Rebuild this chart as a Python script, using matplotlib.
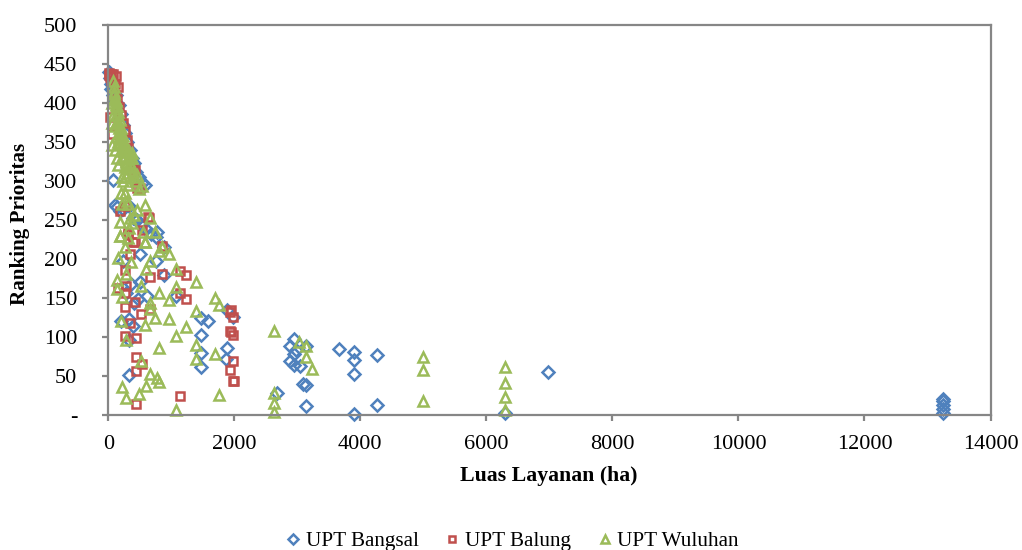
import matplotlib
matplotlib.use("Agg")
import matplotlib.pyplot as plt

plt.rcParams['font.family'] = ['Liberation Serif', 'DejaVu Serif']

series_names = ['UPT Bangsal', 'UPT Balung', 'UPT Wuluhan']
x_label = 'Luas Layanan (ha)'
y_label = 'Ranking Prioritas'
x_ticks = [0, 2000, 4000, 6000, 8000, 10000, 12000, 14000]
y_ticks = [0, 50, 100, 150, 200, 250, 300, 350, 400, 450, 500]
y_tick_labels = ['-', '50', '100', '150', '200', '250', '300', '350', '400', '450', '500']

bangsal_x = [10, 20, 35, 50, 70, 90, 130, 170, 200, 235, 265, 300, 340, 370, 400, 440, 490, 530, 590, 75, 105, 140, 185, 240, 330, 390, 450, 520, 600, 680, 770, 760, 880,
             328, 391, 328, 196, 328, 1471, 1471, 1883, 1862, 1471, 1471, 1582, 1883, 1978, 1069, 614, 471, 407, 275, 365, 503, 878, 762, 503, 233,
             3899, 3142, 4269, 2677, 3089, 3142, 3899, 2883, 2941, 3047, 2941, 2984, 2878, 2941, 3142, 3666, 3899, 3899, 4269, 6970, 6290,
             13240, 13240, 13240, 13240, 13240]
bangsal_y = [440, 432, 425, 418, 410, 402, 410, 398, 386, 372, 362, 350, 340, 330, 323, 312, 305, 298, 295, 301, 269, 267, 262, 264, 268, 253, 250, 243, 238, 232, 235, 228, 215,
             51, 114, 123, 121, 96, 62, 79, 86, 72, 102, 125, 120, 135, 126, 153, 153, 149, 144, 156, 168, 171, 180, 197, 206, 198,
             1, 12, 13, 28, 40, 39, 52, 69, 64, 63, 78, 83, 88, 98, 88, 84, 81, 70, 77, 55, 3,
             3, 8, 13, 18, 20]

balung_x = [5, 15, 25, 35, 45, 60, 80, 100, 120, 150, 110, 140, 170, 200, 230, 260, 290, 320, 350, 380, 423, 450, 500, 26, 60, 185, 635, 529, 397, 317, 260, 640,
            434, 1137, 1978, 1990, 1936, 1978, 529, 434, 434, 434, 270, 344, 1952, 1978, 1936, 1978, 1936, 1952, 524, 270, 418, 656, 1238, 1132, 270, 153, 275, 656, 857, 339, 270, 1132, 1238, 418, 312, 857]
balung_y = [438, 436, 433, 437, 430, 428, 437, 425, 434, 420, 410, 405, 395, 385, 375, 365, 352, 342, 330, 316, 314, 291, 291, 382, 360, 261, 254, 237, 222, 233, 268, 252,
            14, 25, 44, 44, 58, 69, 66, 57, 75, 99, 101, 118, 106, 103, 108, 126, 132, 134, 130, 139, 145, 136, 149, 156, 156, 163, 165, 177, 181, 206, 186, 185, 179, 222, 231, 217]

wuluhan_x = [75, 85, 95, 100, 115, 130, 145, 160, 175, 190, 205, 225, 245, 265, 285, 305, 330, 350, 370, 390, 415, 440, 480, 529, 450, 370, 132, 53, 180, 105, 230, 280, 60, 150, 320, 200, 120, 250,
             90, 110, 135, 155, 180, 205, 230, 255, 280, 310, 340, 375, 60, 80, 120, 140, 170, 195, 225, 260, 290, 100, 150, 215, 270, 300,
             582, 661, 212, 307, 450, 185, 344, 370, 741, 846, 185, 582, 555, 317, 265, 330, 400,
             1069, 275, 487, 212, 592, 1751, 799, 778, 667, 513, 799, 1386, 1687, 1386, 280, 1069, 1238, 577, 735, 957, 206, 1386, 1751, 1687, 957, 656, 656, 222, 799, 138, 138, 513, 1069, 1386, 286, 592, 1069, 365, 656, 153, 577, 957, 799, 180,
             2629, 2629, 2629, 2629, 3026, 3142, 3142, 3237, 5000, 5000, 5000, 6290, 6290, 6290, 6290]
wuluhan_y = [428, 420, 412, 405, 398, 392, 384, 376, 368, 362, 354, 347, 340, 332, 325, 318, 338, 330, 336, 312, 305, 300, 290, 293, 308, 329, 329, 346, 357, 370, 300, 305, 375, 350, 295, 285, 402, 345,
             414, 405, 396, 388, 378, 368, 358, 350, 344, 330, 322, 318, 400, 385, 375, 358, 348, 338, 328, 318, 310, 340, 320, 305, 285, 275,
             269, 252, 271, 271, 263, 248, 252, 246, 235, 216, 229, 222, 235, 227, 216, 240, 256,
             6, 22, 27, 36, 37, 26, 42, 48, 53, 69, 86, 72, 78, 90, 96, 101, 113, 115, 125, 123, 121, 133, 141, 150, 147, 136, 144, 151, 157, 162, 173, 166, 164, 171, 181, 187, 187, 196, 198, 201, 222, 206, 210, 229,
             108, 28, 15, 4, 93, 89, 75, 59, 74, 58, 18, 61, 41, 23, 7]

fig = plt.figure(figsize=(10.22, 5.5), dpi=100)
ax = fig.add_axes([108.3 / 1022, 1 - 415 / 550, (990.5 - 108.3) / 1022, 390 / 550])

styles = [('D', '#4F81BD', 6.0), ('s', '#C0504D', 6.2), ('^', '#9BBB59', 7.0)]
data = [(bangsal_x, bangsal_y), (balung_x, balung_y), (wuluhan_x, wuluhan_y)]
for (xs, ys), name, (m, c, s) in zip(data, series_names, styles):
    ax.plot(xs, ys, linestyle='none', marker=m, markerfacecolor='none', markeredgecolor=c,
            markeredgewidth=1.8, markersize=s, label=name, clip_on=False)

ax.set_xlim(0, 14000)
ax.set_ylim(0, 500)
ax.set_xticks(x_ticks)
ax.set_yticks(y_ticks, y_tick_labels)
for sp in ax.spines.values():
    sp.set_color('#868686')
    sp.set_linewidth(1.6)
ax.tick_params(axis='both', which='major', direction='out', length=4.5, width=1.6, color='#868686',
               labelsize=16, labelcolor='black')
ax.tick_params(axis='x', pad=10)
ax.tick_params(axis='y', pad=18)
ax.set_xlabel(x_label, fontsize=15.7, fontweight='bold', va='center')
ax.set_ylabel(y_label, fontsize=15.2, fontweight='bold', va='center')
ax.xaxis.set_label_coords((549 - 108.3) / (990.5 - 108.3), -(476 - 415) / 390)
ax.yaxis.set_label_coords(-(108.3 - 20) / (990.5 - 108.3), (415 - 224) / 390)
fig.legend(*ax.get_legend_handles_labels(), loc='center', ncol=3, frameon=False, fontsize=15.2,
           bbox_to_anchor=(508 / 1022, 1 - 541 / 550), handletextpad=-0.15, columnspacing=0.85,
           handlelength=1.5, markerscale=0.8)
fig.savefig('out.png', dpi=100)
